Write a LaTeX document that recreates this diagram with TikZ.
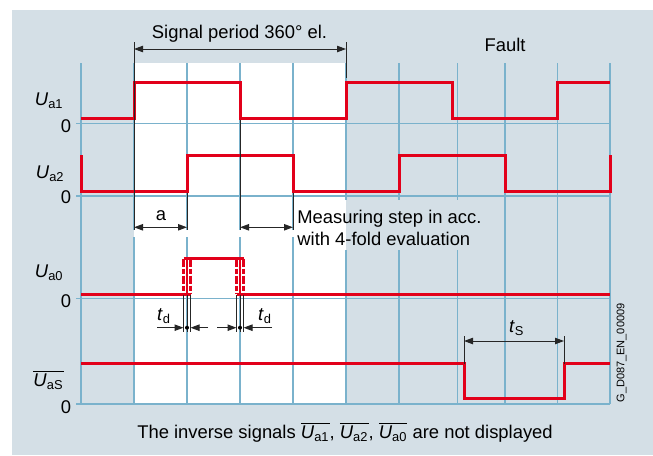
\documentclass[tikz,border=0pt]{standalone}
\usepackage{fontspec}
\setmainfont{Liberation Sans}
\usepackage[usenames, dvipsnames]{xcolor}
\usepackage{tikz}
\usetikzlibrary{arrows.meta}
\definecolor{panel}{RGB}{212,223,230}
\definecolor{gridblue}{RGB}{122,178,204}
\definecolor{sigred}{RGB}{226,0,26}
\newcommand{\sig}[1]{\textit{U}\textsubscript{#1}}
\newcommand{\isig}[1]{$\overline{\hbox{\sig{#1}}}$}
\begin{document}
\begin{tikzpicture}[x = 0.5pt, y = -0.5pt,
		every node/.style = {inner sep = 0pt, font = \fontsize{9.2}{11}\selectfont},
		signal/.style = {draw = sigred, line width = 1.5pt},
		gridline/.style = {draw = gridblue, line width = 0.6pt},
		dimline/.style = {draw = black!85, line width = 0.5pt},
		dimarrow/.style = {dimline, {Triangle[length = 4.5pt, width = 3.2pt]}-{Triangle[length = 4.5pt, width = 3.2pt]}},
		tdarrow/.style = {dimline, -{Triangle[length = 4.5pt, width = 3.2pt]}},
		edgedash/.style = {dash pattern = on 4pt off 1pt on 2.5pt off 1pt}]
			\useasboundingbox (0,0) rectangle (653,455);
			\fill[white] (0,0) rectangle (653,455);
			\fill[panel] (12,10) rectangle (653,455);
			\fill[white] (134,63) rectangle (346,404);
			\foreach \gx in {81,505,557.5,610}
				\draw[gridline] (\gx,63) -- (\gx,404);
			\foreach \gx in {134,187,240,293}
			{
				\draw[gridline] (\gx,63) -- (\gx,230);
				\draw[gridline] (\gx,237) -- (\gx,404);
			}
			\foreach \gx in {346,399,457.5}
			{
				\draw[gridline] (\gx,63) -- (\gx,200);
				\draw[gridline] (\gx,250) -- (\gx,404);
			}
			\foreach \zy in {123.5,196,298.5,404}
				\draw[gridline] (76,\zy) -- (610,\zy);
			\draw[signal]
			(81,118.5) -| (134,82) -| (240,118.5) -| (346,82) -| (452,118.5) -| (557.5,82) -- (610,82);
			\draw[signal]
			(81,155) -- (81,191.5) -| (187,155) -| (293,191.5) -| (399,155) -| (505,191.5) -| (610,155);
			\draw[signal] (81,294) -- (190.5,294);
			\draw[signal] (183.5,258.5) -- (243.5,258.5);
			\draw[signal] (236.5,294) -- (610,294);
			\foreach \ex in {183.5,190.5,236.5,243.5}
				\draw[signal, edgedash] (\ex,258.5) -- (\ex,294);
			\foreach \ex in {187,240}
				\draw[draw = sigred, line width = 0.8pt] (\ex,258.5) -- (\ex,294);
			\draw[signal]
			(81,363.5) -| (464,398.5) -| (564,363.5) -- (610,363.5);
			\draw[dimline] (134,42) -- (134,230);
			\draw[dimline] (346,42) -- (346,78);
			\draw[dimarrow] (134,49) -- (346,49);
			\draw[dimline] (187,193) -- (187,230);
			\draw[dimline] (240,120) -- (240,230);
			\draw[dimline] (293,193) -- (293,230);
			\draw[dimarrow] (134,227.3) -- (187,227.3);
			\draw[dimarrow] (240,227.3) -- (293,227.3);
			\foreach \ex in {183.5,187,190.5,236.5,240,243.5}
				\draw[dimline] (\ex,295) -- (\ex,332);
			\draw[tdarrow] (157,327.7) -- (183.5,327.7);
			\draw[tdarrow] (208,327.7) -- (190.5,327.7);
			\fill[black] (187,327.7) circle[radius = 1pt];
			\draw[tdarrow] (217,327.7) -- (236.5,327.7);
			\draw[tdarrow] (272,327.7) -- (243.5,327.7);
			\fill[black] (240,327.7) circle[radius = 1pt];
			\draw[dimline] (464,336) -- (464,363.5);
			\draw[dimline] (564,336) -- (564,363.5);
			\draw[dimarrow] (464,341) -- (564,341);
			\node (period) at (239.5,34){Signal period 360° el.};
			\node (fault) at (505,45){Fault};
			\node (stepa) at (161,216){a};
			\node[anchor = west, align = left] (step) at (297,227.5){Measuring step in acc.\\with 4-fold evaluation};
			\node (tdleft) at (164,316){\textit{t}\textsubscript{d}};
			\node (tdright) at (265,316){\textit{t}\textsubscript{d}};
			\node (ts) at (516.7,328){\textit{t}\textsubscript{S}};
			\node[anchor = east] (ua1) at (64,101){\sig{a1}};
			\node[anchor = east] (ua2) at (65,174){\sig{a2}};
			\node[anchor = east] (ua0) at (64,273){\sig{a0}};
			\node[anchor = east] (uas) at (64,380){\isig{aS}};
			\node[anchor = east] (zero1) at (71.5,126){0};
			\node[anchor = east] (zero2) at (71.5,197.5){0};
			\node[anchor = east] (zero0) at (71.5,301.5){0};
			\node[anchor = east] (zeros) at (71.5,407){0};
			\node (note) at (345,432){The inverse signals \isig{a1}, \isig{a2}, \isig{a0} are not displayed};
			\node[rotate = 90, font = \fontsize{5.5}{6.6}\selectfont] (code) at (621.7,353){G\_D087\_EN\_00009};
		\end{tikzpicture}
\end{document}
